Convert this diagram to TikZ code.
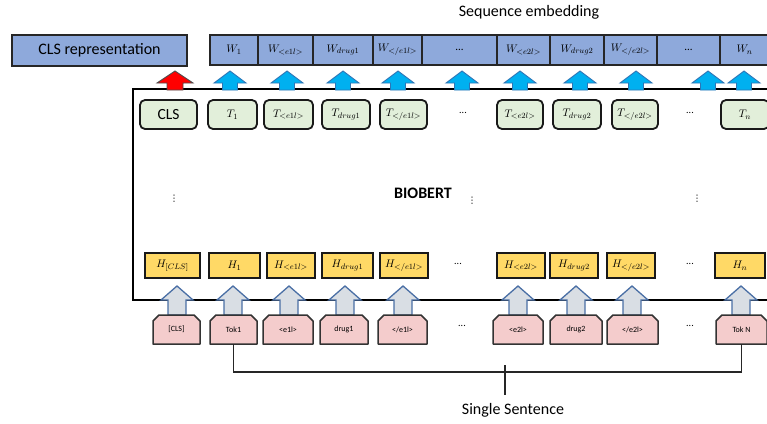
\documentclass[tikz,border=0pt]{standalone}
\usepackage{fontspec}
\setmainfont{Carlito}
\newfontfamily\dejavu{DejaVu Sans}
\definecolor{seqblue}{HTML}{8EA9DB}
\definecolor{tgreen}{HTML}{E2EFDA}
\definecolor{hgold}{HTML}{FFD966}
\definecolor{tokpink}{HTML}{F4CCCC}
\definecolor{arrblue}{HTML}{00B0F0}
\definecolor{arrblueline}{HTML}{2E75B6}
\definecolor{arrred}{HTML}{FF0000}
\definecolor{arrgrey}{HTML}{D9DEE4}
\definecolor{arrgreyline}{HTML}{4A6FA5}
\newcommand\rbox[7]{\node[#1,minimum width={#4pt-#3pt},minimum height={#6pt-#5pt}] (#2) at ({(#3+#4)/2},{(#5+#6)/2}) {#7};}
\newcommand\tokbox[6]{%
  \draw[tokshape] (#2,#5) -- (#2,#4+6) -- (#2+6,#4) -- (#3-6,#4) -- (#3,#4+6) -- (#3,#5) -- cycle;
  \node[toktext,minimum width={#3pt-#2pt},minimum height={#5pt-#4pt}] (#1) at ({(#2+#3)/2},{(#4+#5)/2}) {#6};}
\newcommand\blockup[7]{% style, x, ytip, ybase, ybottom, headhalf, shafthalf
  \draw[#1] (#2,#3) -- (#2+#6,#4) -- (#2+#7,#4) -- (#2+#7,#5) -- (#2-#7,#5) -- (#2-#7,#4) -- (#2-#6,#4) -- cycle;}
\tikzset{
  seqcell/.style={draw=black!85,fill=seqblue,line width=1.4pt,inner sep=0pt,font=\fontsize{11}{13}\selectfont},
  clsrep/.style={draw=black!85,fill=seqblue,line width=2pt,inner sep=0pt,font=\fontsize{16}{19}\selectfont},
  tbox/.style={draw=black!90,fill=tgreen,line width=1.8pt,rounded corners=5pt,inner sep=0pt,font=\fontsize{11}{13}\selectfont},
  hbox/.style={draw=black!90,fill=hgold,line width=1.8pt,inner sep=0pt,font=\fontsize{11}{13}\selectfont},
  tokshape/.style={draw=black!80,fill=tokpink,line width=1.5pt,line join=round},
  toktext/.style={inner sep=0pt,font=\fontsize{8}{10}\selectfont},
  bluearr/.style={fill=arrblue,draw=arrblueline,line width=0.9pt,line join=miter},
  redarr/.style={fill=arrred,draw=black!70,line width=0.9pt},
  greyarr/.style={fill=arrgrey,draw=arrgreyline,line width=1.3pt},
  frame/.style={draw=black,line width=2.6pt},
  dotsl/.style={inner sep=0pt,font=\fontsize{10}{12}\selectfont},
  vdotsl/.style={inner sep=0pt,font=\dejavu\fontsize{9}{10}\selectfont},
  caption/.style={inner sep=0pt,font=\fontsize{16}{19}\selectfont},
  bracket/.style={draw=black!85,line width=1.8pt},
}
\begin{document}
\begin{tikzpicture}[x=1pt,y=-1pt]
\useasboundingbox[fill=white] (0,0) rectangle (767,423);

% caption top
\node[caption] (seqlabel) at (529,12) {Sequence embedding};

% CLS representation
\rbox{clsrep}{clsrep}{12}{187}{35}{66}{CLS representation}

% sequence embedding cells
\rbox{seqcell}{w1}{210}{258}{35}{65}{$W_1$}
\rbox{seqcell}{we1}{258}{313}{35}{65}{$W_{<e1l>}$}
\rbox{seqcell}{wd1}{313}{373}{35}{65}{$W_{drug1}$}
\rbox{seqcell}{wce1}{373}{422}{35}{65}{$W_{</e1l>}$}
\rbox{seqcell}{wdots1}{422}{497}{35}{65}{...}
\rbox{seqcell}{we2}{497}{550}{35}{65}{$W_{<e2l>}$}
\rbox{seqcell}{wd2}{550}{604}{35}{65}{$W_{drug2}$}
\rbox{seqcell}{wce2}{604}{657}{35}{65}{$W_{</e2l>}$}
\rbox{seqcell}{wdots2}{657}{720}{35}{65}{...}
\rbox{seqcell}{wn}{720}{769}{35}{65}{$W_n$}

% BIOBERT frame
\draw[frame] (775,89) -- (133,89) -- (133,300) -- (775,300);

% top arrows
\blockup{redarr}{175}{71}{83}{90}{18}{8}
\foreach \ax in {230,287,343,398,462,520,580,636,708,744}{
  \blockup{bluearr}{\ax}{71}{83}{90}{16}{7.5}
}

% T row
\rbox{tbox,font=\fontsize{15.5}{18}\selectfont}{cls}{140}{197}{100}{129}{CLS}
\rbox{tbox}{t1}{208}{257}{100}{129}{$T_1$}
\rbox{tbox}{te1}{264}{313}{100}{129}{$T_{<e1l>}$}
\rbox{tbox}{td1}{322}{370}{100}{129}{$T_{drug1}$}
\rbox{tbox}{tce1}{380}{427}{100}{129}{$T_{</e1l>}$}
\node[dotsl] (tdots1) at (463,113) {...};
\rbox{tbox}{te2}{497}{543}{100}{129}{$T_{<e2l>}$}
\rbox{tbox}{td2}{553}{601}{100}{129}{$T_{drug2}$}
\rbox{tbox}{tce2}{612}{658}{100}{129}{$T_{</e2l>}$}
\node[dotsl] (tdots2) at (690,113) {...};
\rbox{tbox}{tn}{721}{769}{100}{129}{$T_n$}

% middle
\node[inner sep=0pt,font=\fontsize{16}{19}\selectfont\bfseries] (biobert) at (423,193) {BIOBERT};
\node[vdotsl] (vd1) at (174,199) {⋮};
\node[vdotsl] (vd2) at (472,201) {⋮};
\node[vdotsl] (vd3) at (697,199) {⋮};

% H row
\rbox{hbox}{hcls}{145}{200}{253}{278}{$H_{[CLS]}$}
\rbox{hbox}{h1}{209}{260}{253}{278}{$H_1$}
\rbox{hbox}{he1}{267}{315}{253}{278}{$H_{<e1l>}$}
\rbox{hbox}{hd1}{322}{373}{253}{278}{$H_{drug1}$}
\rbox{hbox}{hce1}{380}{428}{253}{278}{$H_{</e1l>}$}
\node[dotsl] (hdots1) at (458,264) {...};
\rbox{hbox}{he2}{497}{545}{253}{278}{$H_{<e2l>}$}
\rbox{hbox}{hd2}{550}{598}{253}{278}{$H_{drug2}$}
\rbox{hbox}{hce2}{607}{655}{253}{278}{$H_{</e2l>}$}
\node[dotsl] (hdots2) at (690,264) {...};
\rbox{hbox}{hn}{715}{765}{253}{278}{$H_n$}

% grey arrows
\foreach \gx in {177,233,289,345,403,518,576,632,741}{
  \blockup{greyarr}{\gx}{286}{300}{315}{16}{9}
}

% tokens
\tokbox{tcls}{153}{200}{315}{344}{[CLS]}
\tokbox{tok1}{210}{257}{315}{344}{Tok1}
\tokbox{tke1}{263}{313}{315}{344}{<e1l>}
\tokbox{tkd1}{320}{368}{315}{344}{drug1}
\tokbox{tkce1}{378}{427}{315}{344}{</e1l>}
\node[dotsl] (kdots1) at (462,326) {...};
\tokbox{tke2}{493}{543}{315}{344}{<e2l>}
\tokbox{tkd2}{550}{602}{315}{344}{drug2}
\tokbox{tkce2}{607}{658}{315}{344}{</e2l>}
\node[dotsl] (kdots2) at (690,326) {...};
\tokbox{tokn}{716}{767}{315}{344}{Tok N}

% bracket
\coordinate (brk) at (505,372);
\draw[bracket] (tok1.south) |- (brk) -| (tokn.south);
\coordinate (stemtop) at (505,365);
\coordinate (stembot) at (505,395);
\draw[bracket] (stemtop) -- (stembot);
\node[caption] (sent) at (513,410) {Single Sentence};
\end{tikzpicture}
\end{document}
